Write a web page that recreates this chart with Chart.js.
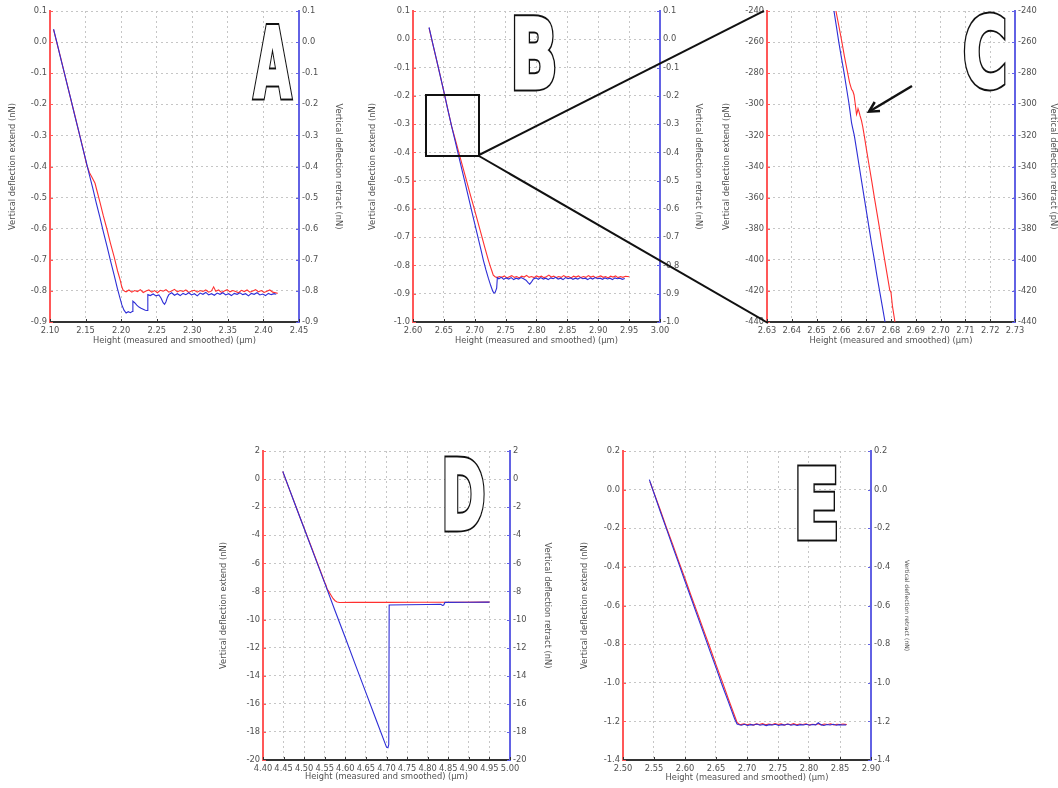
<!DOCTYPE html>
<html><head><meta charset="utf-8">
<script src="https://cdn.jsdelivr.net/npm/chart.js@4.4.0/dist/chart.umd.min.js"></script>
<style>
html,body{margin:0;padding:0;background:#fff;width:1058px;height:788px;overflow:hidden;position:relative;}
canvas{position:absolute;}
svg{position:absolute;left:0;top:0;pointer-events:none;}
</style></head><body>
<canvas id="cA"></canvas><canvas id="cB"></canvas><canvas id="cC"></canvas><canvas id="cD"></canvas><canvas id="cE"></canvas>
<svg width="1058" height="788">
 <defs>
  <g id="letters" font-family="DejaVu Sans" font-weight="bold" font-size="96">
   <text x="254" y="96.5" textLength="37" lengthAdjust="spacingAndGlyphs">A</text>
   <text x="510.5" y="87.5" textLength="47" lengthAdjust="spacingAndGlyphs">B</text>
   <text x="963" y="87" textLength="44" lengthAdjust="spacingAndGlyphs">C</text>
   <text x="441.5" y="528.5" textLength="44" lengthAdjust="spacingAndGlyphs">D</text>
   <text x="793.4" y="537.5" textLength="46" lengthAdjust="spacingAndGlyphs">E</text>
  </g>
 </defs>
 <use href="#letters" fill="#111" stroke="#111" stroke-width="7" stroke-linejoin="miter"/>
 <use href="#letters" fill="#fff" stroke="#fff" stroke-width="3" stroke-linejoin="miter"/>
 <g fill="none" stroke="#111" stroke-width="2">
  <rect x="426" y="95" width="53" height="61"/>
  <line x1="479" y1="155" x2="764" y2="11"/>
  <line x1="479" y1="156" x2="768" y2="323"/>
  <line x1="912" y1="86" x2="871" y2="110.5" stroke-width="2.5"/>
  <polyline points="880,111 869,111.7 874.7,102" stroke-width="2.5"/>
 </g>
</svg>
<script>
// ---------- tick values ----------
const xTicksA=[2.10,2.15,2.20,2.25,2.30,2.35,2.40,2.45];
const yTicksA=[-0.9,-0.8,-0.7,-0.6,-0.5,-0.4,-0.3,-0.2,-0.1,0.0,0.1];
const xTicksB=[2.60,2.65,2.70,2.75,2.80,2.85,2.90,2.95,3.00];
const yTicksB=[-1.0,-0.9,-0.8,-0.7,-0.6,-0.5,-0.4,-0.3,-0.2,-0.1,0.0,0.1];
const xTicksC=[2.63,2.64,2.65,2.66,2.67,2.68,2.69,2.70,2.71,2.72,2.73];
const yTicksC=[-440,-420,-400,-380,-360,-340,-320,-300,-280,-260,-240];
const xTicksD=[4.40,4.45,4.50,4.55,4.60,4.65,4.70,4.75,4.80,4.85,4.90,4.95,5.00];
const yTicksD=[-20,-18,-16,-14,-12,-10,-8,-6,-4,-2,0,2];
const xTicksE=[2.50,2.55,2.60,2.65,2.70,2.75,2.80,2.85,2.90];
const yTicksE=[-1.4,-1.2,-1.0,-0.8,-0.6,-0.4,-0.2,0.0,0.2];

// ---------- series: [height (µm), deflection] ----------
const extendA=[[2.105,0.040],[2.110,-0.006],[2.115,-0.050],[2.120,-0.098],[2.125,-0.143],[2.130,-0.191],[2.135,-0.236],[2.140,-0.284],[2.145,-0.329],[2.1516,-0.395],[2.1555,-0.420],[2.1586,-0.433],[2.1633,-0.454],[2.166,-0.478],[2.170,-0.513],[2.175,-0.559],[2.180,-0.601],[2.185,-0.647],[2.190,-0.689],[2.195,-0.736],[2.1985,-0.764],[2.2008,-0.786],[2.2026,-0.797],[2.205,-0.801],
[2.207,-0.803],[2.211,-0.797],[2.215,-0.804],[2.219,-0.799],[2.223,-0.802],[2.227,-0.796],[2.231,-0.805],[2.235,-0.800],[2.239,-0.797],[2.243,-0.804],[2.247,-0.799],[2.251,-0.806],[2.255,-0.798],[2.259,-0.801],[2.263,-0.796],[2.267,-0.804],[2.271,-0.800],[2.275,-0.795],[2.279,-0.803],[2.283,-0.799],[2.287,-0.802],[2.291,-0.797],[2.295,-0.805],[2.299,-0.800],[2.303,-0.798],[2.307,-0.804],[2.311,-0.799],[2.315,-0.802],[2.319,-0.797],[2.323,-0.804],[2.327,-0.800],[2.330,-0.787],[2.333,-0.801],[2.337,-0.797],[2.341,-0.805],[2.345,-0.800],[2.349,-0.796],[2.353,-0.803],[2.357,-0.799],[2.361,-0.802],[2.365,-0.806],[2.369,-0.798],[2.373,-0.802],[2.377,-0.797],[2.381,-0.804],[2.385,-0.800],[2.389,-0.796],[2.393,-0.803],[2.397,-0.799],[2.401,-0.805],[2.405,-0.801],[2.409,-0.797],[2.413,-0.804],[2.417,-0.806],[2.420,-0.808]];
const retractA=[[2.105,0.042],[2.110,-0.004],[2.115,-0.052],[2.120,-0.097],[2.125,-0.145],[2.130,-0.190],[2.135,-0.238],[2.140,-0.283],[2.145,-0.331],[2.150,-0.376],[2.155,-0.424],[2.160,-0.469],[2.165,-0.517],[2.170,-0.562],[2.175,-0.610],[2.180,-0.655],[2.185,-0.703],[2.190,-0.748],[2.1946,-0.791],[2.198,-0.820],[2.201,-0.845],[2.204,-0.862],[2.207,-0.871],[2.210,-0.867],[2.213,-0.870],[2.2155,-0.866],[2.2165,-0.833],[2.219,-0.838],[2.222,-0.846],[2.225,-0.852],[2.228,-0.856],[2.231,-0.859],[2.234,-0.862],[2.2365,-0.863],[2.2375,-0.812],[2.241,-0.815],[2.245,-0.810],[2.249,-0.816],[2.253,-0.813],[2.256,-0.823],[2.259,-0.838],[2.261,-0.843],[2.263,-0.835],[2.265,-0.821],
[2.267,-0.812],[2.271,-0.806],[2.275,-0.814],[2.279,-0.809],[2.283,-0.815],[2.287,-0.808],[2.291,-0.812],[2.295,-0.806],[2.299,-0.813],[2.303,-0.809],[2.307,-0.816],[2.311,-0.807],[2.315,-0.811],[2.319,-0.805],[2.323,-0.813],[2.327,-0.809],[2.331,-0.814],[2.335,-0.807],[2.339,-0.811],[2.343,-0.806],[2.347,-0.813],[2.351,-0.809],[2.355,-0.815],[2.359,-0.808],[2.363,-0.811],[2.367,-0.806],[2.371,-0.812],[2.375,-0.809],[2.379,-0.816],[2.383,-0.808],[2.387,-0.811],[2.391,-0.806],[2.395,-0.813],[2.399,-0.810],[2.403,-0.815],[2.407,-0.808],[2.411,-0.812],[2.415,-0.809],[2.418,-0.811]];

const extendB=[[2.626,0.040],[2.632,-0.016],[2.638,-0.072],[2.644,-0.128],[2.650,-0.186],[2.656,-0.244],[2.6627,-0.309],[2.668,-0.351],[2.674,-0.399],[2.680,-0.447],[2.686,-0.495],[2.692,-0.543],[2.698,-0.590],[2.704,-0.638],[2.710,-0.686],[2.716,-0.734],[2.722,-0.781],[2.7255,-0.805],[2.7275,-0.818],[2.730,-0.834],[2.733,-0.840],
[2.736,-0.843],[2.740,-0.839],[2.744,-0.842],[2.748,-0.837],[2.752,-0.844],[2.756,-0.840],[2.760,-0.836],[2.764,-0.842],[2.768,-0.839],[2.772,-0.844],[2.776,-0.838],[2.780,-0.841],[2.784,-0.835],[2.788,-0.842],[2.792,-0.839],[2.796,-0.843],[2.800,-0.837],[2.804,-0.841],[2.808,-0.838],[2.812,-0.843],[2.816,-0.840],[2.820,-0.834],[2.824,-0.841],[2.828,-0.838],[2.832,-0.843],[2.836,-0.839],[2.840,-0.842],[2.844,-0.836],[2.848,-0.841],[2.852,-0.839],[2.856,-0.844],[2.860,-0.838],[2.864,-0.841],[2.868,-0.837],[2.872,-0.843],[2.876,-0.839],[2.880,-0.842],[2.884,-0.836],[2.888,-0.841],[2.892,-0.838],[2.896,-0.843],[2.900,-0.840],[2.904,-0.837],[2.908,-0.842],[2.912,-0.839],[2.916,-0.844],[2.920,-0.838],[2.924,-0.841],[2.928,-0.837],[2.932,-0.843],[2.936,-0.839],[2.940,-0.842],[2.944,-0.838],[2.950,-0.840]];
const retractB=[[2.626,0.042],[2.632,-0.015],[2.638,-0.071],[2.644,-0.129],[2.650,-0.185],[2.656,-0.245],[2.6627,-0.309],[2.668,-0.358],[2.674,-0.413],[2.680,-0.468],[2.686,-0.523],[2.692,-0.579],[2.698,-0.634],[2.704,-0.689],[2.710,-0.744],[2.7139,-0.781],[2.718,-0.815],[2.722,-0.845],[2.726,-0.872],[2.729,-0.890],[2.7312,-0.898],[2.733,-0.895],[2.7355,-0.880],[2.7366,-0.843],
[2.739,-0.847],[2.743,-0.842],[2.747,-0.849],[2.751,-0.844],[2.755,-0.848],[2.759,-0.843],[2.763,-0.850],[2.767,-0.845],[2.771,-0.848],[2.775,-0.843],[2.779,-0.847],[2.783,-0.852],[2.786,-0.860],[2.789,-0.866],[2.792,-0.858],[2.795,-0.848],[2.799,-0.844],[2.803,-0.849],[2.807,-0.843],[2.811,-0.848],[2.815,-0.845],[2.819,-0.850],[2.823,-0.844],[2.827,-0.847],[2.831,-0.842],[2.835,-0.848],[2.839,-0.845],[2.843,-0.850],[2.847,-0.843],[2.851,-0.847],[2.855,-0.844],[2.859,-0.849],[2.863,-0.845],[2.867,-0.848],[2.871,-0.843],[2.875,-0.847],[2.879,-0.845],[2.883,-0.850],[2.887,-0.844],[2.891,-0.848],[2.895,-0.843],[2.899,-0.847],[2.903,-0.845],[2.907,-0.849],[2.911,-0.844],[2.915,-0.848],[2.919,-0.845],[2.923,-0.850],[2.927,-0.844],[2.931,-0.847],[2.935,-0.845],[2.939,-0.849],[2.943,-0.846]];

const extendC=[[2.6566,-230],[2.6578,-240],[2.6589,-249],[2.6601,-259],[2.6612,-269],[2.6623,-278],[2.6633,-286],[2.6641,-290.4],[2.6646,-291.5],[2.6651,-294],[2.6656,-300],[2.6661,-306.5],[2.6664,-305],[2.6667,-302.8],[2.6671,-304.7],[2.6675,-307.2],[2.6681,-310.5],[2.6686,-314.4],[2.6692,-320],[2.6702,-330],[2.6712,-339.5],[2.6723,-350],[2.6733,-360],[2.6743,-369.5],[2.6754,-380],[2.6763,-389],[2.6766,-392],[2.6775,-400.5],[2.6785,-410],[2.6795,-419.5],[2.6800,-421],[2.6806,-430],[2.6816,-440],[2.6826,-450]];
const retractC=[[2.6560,-230],[2.6570,-240],[2.6580,-250],[2.6590,-260.5],[2.6600,-270],[2.6611,-280],[2.6621,-290],[2.6630,-299],[2.6636,-306],[2.6641,-312],[2.6645,-315],[2.6652,-320],[2.6662,-330],[2.6672,-340],[2.6682,-350],[2.6692,-360],[2.6702,-370],[2.6712,-380],[2.6722,-390],[2.6733,-400],[2.6743,-410],[2.6754,-420],[2.6765,-430],[2.6776,-440],[2.6786,-450]];

const extendD=[[4.448,0.53],[4.460,-0.41],[4.470,-1.18],[4.480,-1.95],[4.490,-2.73],[4.500,-3.49],[4.510,-4.27],[4.520,-5.03],[4.530,-5.81],[4.540,-6.57],[4.550,-7.36],[4.553,-7.55],[4.556,-7.85],[4.559,-7.95],[4.562,-8.12],[4.566,-8.30],[4.570,-8.50],[4.575,-8.66],[4.580,-8.75],[4.586,-8.79],[4.62,-8.78],[4.70,-8.78],[4.78,-8.77],[4.86,-8.77],[4.95,-8.76]];
const retractD=[[4.448,0.55],[4.475,-1.58],[4.500,-3.52],[4.525,-5.47],[4.550,-7.41],[4.575,-9.37],[4.600,-11.30],[4.625,-13.26],[4.650,-15.20],[4.675,-17.15],[4.700,-19.08],[4.7035,-19.12],[4.7055,-18.9],[4.7065,-8.96],[4.75,-8.95],[4.80,-8.93],[4.832,-8.92],[4.836,-9.00],[4.839,-8.97],[4.842,-8.78],[4.90,-8.77],[4.95,-8.76]];

const extendE=[[2.5435,0.041],[2.550,-0.017],[2.560,-0.104],[2.570,-0.196],[2.580,-0.282],[2.590,-0.373],[2.600,-0.460],[2.610,-0.551],[2.620,-0.638],[2.630,-0.728],[2.640,-0.815],[2.650,-0.906],[2.660,-0.993],[2.670,-1.084],[2.680,-1.171],[2.684,-1.205],[2.688,-1.216],
[2.690,-1.217],[2.695,-1.213],[2.700,-1.218],[2.705,-1.214],[2.710,-1.219],[2.715,-1.213],[2.720,-1.216],[2.725,-1.212],[2.730,-1.218],[2.735,-1.214],[2.740,-1.217],[2.745,-1.212],[2.750,-1.216],[2.755,-1.213],[2.760,-1.219],[2.765,-1.214],[2.770,-1.217],[2.775,-1.212],[2.780,-1.218],[2.785,-1.214],[2.790,-1.216],[2.795,-1.213],[2.800,-1.219],[2.805,-1.215],[2.810,-1.217],[2.815,-1.212],[2.820,-1.218],[2.825,-1.214],[2.830,-1.216],[2.835,-1.213],[2.840,-1.219],[2.845,-1.215],[2.850,-1.217],[2.855,-1.214],[2.861,-1.216]];
const retractE=[[2.5425,0.052],[2.550,-0.019],[2.560,-0.112],[2.570,-0.202],[2.580,-0.294],[2.590,-0.383],[2.600,-0.475],[2.610,-0.564],[2.620,-0.654],[2.630,-0.743],[2.640,-0.834],[2.650,-0.922],[2.660,-1.013],[2.670,-1.099],[2.680,-1.186],[2.684,-1.214],
[2.686,-1.216],[2.691,-1.220],[2.696,-1.215],[2.701,-1.221],[2.706,-1.217],[2.711,-1.219],[2.716,-1.214],[2.721,-1.220],[2.726,-1.216],[2.731,-1.222],[2.736,-1.217],[2.741,-1.219],[2.746,-1.215],[2.751,-1.221],[2.756,-1.217],[2.761,-1.219],[2.766,-1.214],[2.771,-1.220],[2.776,-1.216],[2.781,-1.221],[2.786,-1.217],[2.791,-1.219],[2.796,-1.215],[2.801,-1.220],[2.806,-1.216],[2.811,-1.218],[2.815,-1.207],[2.819,-1.217],[2.824,-1.221],[2.829,-1.216],[2.834,-1.219],[2.839,-1.215],[2.844,-1.220],[2.849,-1.217],[2.854,-1.219],[2.860,-1.218]];

// ---------- styling ----------
const FONT="'DejaVu Sans', sans-serif";
const FS=8.3;
const TXT='#505050', GRID='#c6c6c6';
const RED='#ff3030', BLUE='#2e2ed6', RED_AX='#ff5858', BLUE_AX='#6262e4';
const X_TITLE='Height (measured and smoothed) (µm)';

const inwardTicks={id:'inwardTicks',afterDatasetsDraw(chart){
  const {ctx,chartArea:a,scales}=chart; ctx.save(); ctx.lineWidth=1;
  ctx.strokeStyle='#333';
  scales.x.ticks.forEach(t=>{const p=Math.round(scales.x.getPixelForValue(t.value))+0.5;ctx.beginPath();ctx.moveTo(p,a.bottom);ctx.lineTo(p,a.bottom-3);ctx.stroke();});
  ctx.strokeStyle=RED_AX;
  scales.y.ticks.forEach(t=>{const p=Math.round(scales.y.getPixelForValue(t.value))+0.5;ctx.beginPath();ctx.moveTo(a.left,p);ctx.lineTo(a.left+3,p);ctx.stroke();});
  ctx.strokeStyle=BLUE_AX;
  scales.y1.ticks.forEach(t=>{const p=Math.round(scales.y1.getPixelForValue(t.value))+0.5;ctx.beginPath();ctx.moveTo(a.right,p);ctx.lineTo(a.right-3,p);ctx.stroke();});
  ctx.restore();
}};

function panel(p){
  const [l,t,r,b]=p.rect, SIDE=52, TOP=11, BOT=26, LH=FS*1.2;
  const cv=document.getElementById(p.id);
  cv.width=r-l+2*SIDE; cv.height=b-t+TOP+BOT;
  cv.style.left=(l-SIDE)+'px'; cv.style.top=(t-TOP)+'px';
  const font={family:FONT,size:FS};
  const tk=arr=>s=>{s.ticks=arr.map(v=>({value:v}));};
  const yAxis=(pos,border,title,gap,fsize)=>({
    position:pos,min:p.yTicks[0],max:p.yTicks[p.yTicks.length-1],
    afterBuildTicks:tk(p.yTicks),afterFit:s=>{s.width=SIDE;},
    ticks:{padding:3,color:TXT,font,callback:v=>Number(v).toFixed(p.yDec)},
    grid:{display:pos==='left',color:GRID,lineWidth:1,drawTicks:false},
    border:{color:border,width:2,dash:[2,3]},
    title:{display:true,text:title,color:TXT,font:{family:FONT,size:fsize||FS},padding:{top:SIDE-gap-(fsize||FS)*0.6,bottom:0}}
  });
  return new Chart(cv,{
    type:'line',
    data:{datasets:[
      {label:'retract',data:p.retract.map(([x,y])=>({x,y})),yAxisID:'y1',borderColor:BLUE,borderWidth:1.1,pointRadius:0,tension:0},
      {label:'extend',data:p.extend.map(([x,y])=>({x,y})),yAxisID:'y',borderColor:RED,borderWidth:1.1,pointRadius:0,tension:0}
    ]},
    options:{
      responsive:false,animation:false,devicePixelRatio:1,
      layout:{padding:{top:TOP,left:0,right:0,bottom:0}},
      plugins:{legend:{display:false},tooltip:{enabled:false}},
      scales:{
        x:{type:'linear',position:'bottom',min:p.xTicks[0],max:p.xTicks[p.xTicks.length-1],
           afterBuildTicks:tk(p.xTicks),afterFit:s=>{s.height=BOT;},
           ticks:{autoSkip:false,maxRotation:0,minRotation:0,padding:4,color:TXT,font,callback:v=>Number(v).toFixed(2)},
           grid:{color:GRID,lineWidth:1,drawTicks:false},
           border:{color:'#333',width:2,dash:[2,3]},
           title:{display:true,text:X_TITLE,color:TXT,font,padding:{top:0,bottom:BOT-p.gapX-LH/2}}},
        y:yAxis('left',RED_AX,'Vertical deflection extend ('+p.unit+')',p.gapL),
        y1:yAxis('right',BLUE_AX,'Vertical deflection retract ('+p.unit+')',p.gapR,p.rtSize)
      }
    },
    plugins:[inwardTicks]
  });
}

panel({id:'cA',rect:[50,11,299,322],xTicks:xTicksA,yTicks:yTicksA,yDec:1,extend:extendA,retract:retractA,unit:'nN',gapL:37,gapR:39,gapX:18.7});
panel({id:'cB',rect:[413,11,660,322],xTicks:xTicksB,yTicks:yTicksB,yDec:1,extend:extendB,retract:retractB,unit:'nN',gapL:40,gapR:38,gapX:18.7});
panel({id:'cC',rect:[767,11,1015,322],xTicks:xTicksC,yTicks:yTicksC,yDec:0,extend:extendC,retract:retractC,unit:'pN',gapL:40,gapR:38,gapX:18.7});
panel({id:'cD',rect:[263,451,510,760],xTicks:xTicksD,yTicks:yTicksD,yDec:0,extend:extendD,retract:retractD,unit:'nN',gapL:39,gapR:37,gapX:16.7});
panel({id:'cE',rect:[623,451,871,760],xTicks:xTicksE,yTicks:yTicksE,yDec:1,extend:extendE,retract:retractE,unit:'nN',gapL:38,gapR:36,gapX:18.3,rtSize:6});
</script>
</body></html>
